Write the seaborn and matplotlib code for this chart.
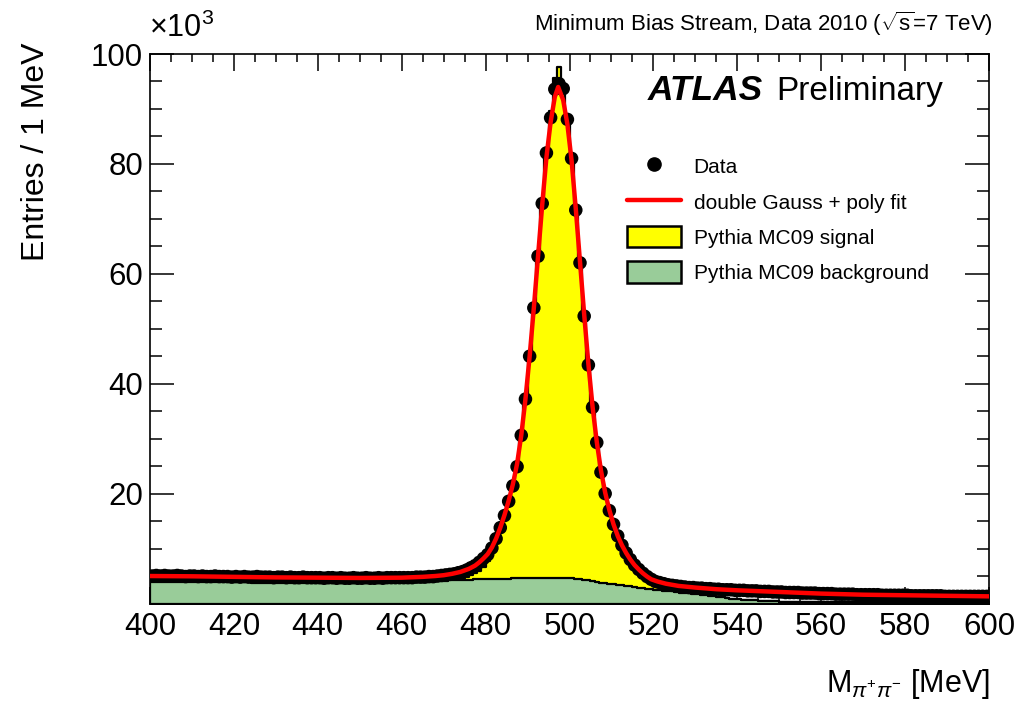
import numpy as np
import pandas as pd
import matplotlib
matplotlib.use('Agg')
import matplotlib.pyplot as plt
import seaborn as sns
from matplotlib.lines import Line2D
from matplotlib.patches import Patch

# bin centres of the 1 MeV histogram, 400.5 ... 599.5
mass = np.arange(400.5, 600.0, 1.0)

# data, entries per bin in units of 10^3
data_k = [
    5.0, 5.1, 5.0, 5.1, 5.0, 5.0, 5.1, 5.0, 4.9, 5.0, 5.0, 4.9, 5.0, 4.9, 4.9, 5.0, 4.9, 4.9, 4.9, 4.8,
    4.9, 4.8, 4.9, 4.8, 4.8, 4.9, 4.8, 4.8, 4.8, 4.7, 4.8, 4.8, 4.7, 4.8, 4.7, 4.7, 4.8, 4.7, 4.7, 4.7,
    4.7, 4.6, 4.7, 4.7, 4.6, 4.7, 4.6, 4.6, 4.7, 4.6, 4.6, 4.7, 4.6, 4.6, 4.7, 4.6, 4.7, 4.7, 4.7, 4.7,
    4.7, 4.7, 4.7, 4.8, 4.8, 4.8, 4.9, 4.9, 5.0, 5.1, 5.2, 5.3, 5.4, 5.6, 5.8, 6.1, 6.5, 6.9, 7.5, 8.2,
    8.9, 10.1, 11.8, 13.8, 16.0, 18.6, 21.4, 24.9, 30.6, 37.2, 45.0, 53.8, 63.2, 72.8, 82.0, 88.4, 93.6, 94.6, 93.7, 88.1,
    81.0, 71.6, 62.0, 52.3, 43.4, 35.7, 29.3, 23.9, 20.0, 16.9, 14.4, 12.3, 10.6, 9.2, 8.0, 7.0, 6.2, 5.5, 4.9, 4.4,
    4.0, 3.8, 3.6, 3.4, 3.3, 3.2, 3.1, 3.0, 2.9, 2.9, 2.8, 2.8, 2.7, 2.7, 2.6, 2.6, 2.5, 2.5, 2.5, 2.4,
    2.4, 2.4, 2.3, 2.3, 2.3, 2.2, 2.2, 2.2, 2.1, 2.1, 2.1, 2.0, 2.0, 2.0, 2.0, 1.9, 1.9, 1.9, 1.9, 1.8,
    1.8, 1.8, 1.8, 1.7, 1.7, 1.7, 1.7, 1.7, 1.6, 1.6, 1.6, 1.6, 1.6, 1.6, 1.5, 1.5, 1.5, 1.5, 1.5, 1.5,
    1.5, 1.4, 1.4, 1.4, 1.4, 1.4, 1.4, 1.4, 1.4, 1.3, 1.3, 1.3, 1.3, 1.3, 1.3, 1.3, 1.3, 1.3, 1.3, 1.3,
]

# Pythia MC09 background, per bin (10^3)
bkg_k = [
    4.0, 4.0, 4.0, 4.0, 4.0, 4.0, 4.0, 4.0, 4.0, 3.9, 3.9, 3.9, 3.9, 3.9, 3.9, 3.9, 3.9, 3.9, 3.9, 3.9,
    3.9, 3.9, 3.9, 3.9, 3.8, 3.8, 3.8, 3.8, 3.8, 3.8, 3.8, 3.8, 3.8, 3.8, 3.8, 3.8, 3.8, 3.8, 3.8, 3.8,
    3.8, 3.8, 3.8, 3.8, 3.8, 3.8, 3.8, 3.8, 3.8, 3.8, 3.8, 3.8, 3.8, 3.8, 3.8, 3.9, 3.9, 3.9, 3.9, 3.9,
    3.9, 3.9, 3.9, 3.9, 4.0, 4.0, 4.0, 4.0, 4.1, 4.1, 4.1, 4.2, 4.2, 4.2, 4.3, 4.3, 4.3, 4.4, 4.4, 4.4,
    4.4, 4.5, 4.5, 4.5, 4.5, 4.5, 4.6, 4.6, 4.6, 4.6, 4.6, 4.6, 4.7, 4.7, 4.7, 4.7, 4.7, 4.7, 4.7, 4.6,
    4.6, 4.5, 4.4, 4.3, 4.2, 4.1, 3.9, 3.8, 3.7, 3.6, 3.5, 3.4, 3.3, 3.2, 3.1, 3.0, 2.9, 2.8, 2.7, 2.6,
    2.5, 2.4, 2.3, 2.2, 2.2, 2.1, 2.0, 1.9, 1.9, 1.8, 1.7, 1.6, 1.5, 1.4, 1.3, 1.2, 1.1, 1.0, 0.9, 0.9,
    0.8, 0.7, 0.7, 0.6, 0.6, 0.5, 0.5, 0.4, 0.4, 0.4, 0.3, 0.3, 0.3, 0.3, 0.3, 0.3, 0.3, 0.3, 0.3, 0.3,
    0.3, 0.3, 0.3, 0.3, 0.3, 0.3, 0.3, 0.3, 0.3, 0.3, 0.3, 0.3, 0.3, 0.3, 0.3, 0.3, 0.3, 0.3, 0.3, 0.3,
    0.2, 0.2, 0.2, 0.2, 0.2, 0.2, 0.2, 0.2, 0.2, 0.2, 0.2, 0.2, 0.2, 0.2, 0.2, 0.2, 0.2, 0.2, 0.2, 0.2,
]

# Pythia MC09 K0s signal, bins 470.5 ... 529.5 (10^3)
sig_start = 470
sig_k = [
    0.1, 0.1, 0.2, 0.3, 0.4, 0.6, 0.8, 1.1, 1.6, 2.3,
    3.3, 4.6, 6.5, 9.0, 11.3, 13.9, 16.7, 20.4, 26.0, 32.5,
    40.5, 49.2, 58.8, 68.8, 77.9, 85.0, 91.0, 92.9, 89.8, 83.4,
    76.2, 67.0, 57.5, 48.0, 39.0, 31.5, 25.3, 20.2, 16.4, 13.4,
    11.0, 9.0, 7.4, 6.1, 4.9, 3.9, 3.0, 2.3, 1.7, 1.2,
    0.9, 0.7, 0.5, 0.4, 0.3, 0.2, 0.1, 0.1, 0.1, 0.0,
]

# double Gauss + poly fit
fit_mass = [400, 410, 420, 430, 440, 450, 460, 465, 468, 470, 472, 474, 476, 477.5, 478.5, 479.5,
            480.5, 481.5, 482.5, 483.5, 484.5, 485.5, 486.5, 487.5, 488.5, 489.5, 490.5, 491.5,
            492.5, 493.5, 494.5, 495.5, 496.5, 497.3, 498.5, 499.5, 500.5, 501.5, 502.5, 503.5,
            504.5, 505.5, 506.5, 507.5, 508.5, 509.5, 510.5, 511.5, 512.5, 513.5, 514.5, 515.5,
            516.5, 517.5, 518.5, 519.5, 521, 523, 526, 530, 535, 540, 550, 560, 570, 580, 590, 600]
fit_k = [5.0, 4.95, 4.85, 4.75, 4.7, 4.65, 4.7, 4.85, 5.0, 5.15, 5.4, 5.75, 6.3, 6.9, 7.5, 8.2,
         9.0, 10.2, 11.8, 13.8, 16.1, 18.7, 21.7, 25.4, 30.6, 37.2, 45.0, 53.8,
         63.2, 72.6, 81.2, 87.6, 92.2, 94.0, 91.6, 87.2, 80.6, 71.8, 62.2, 52.6,
         43.6, 35.8, 29.4, 24.2, 20.2, 17.0, 14.4, 12.3, 10.6, 9.2, 8.0, 7.0,
         6.2, 5.5, 4.9, 4.4, 4.0, 3.6, 3.2, 2.9, 2.6, 2.4, 2.1, 1.8, 1.6, 1.5, 1.4, 1.3]

x_ticks = [400, 420, 440, 460, 480, 500, 520, 540, 560, 580, 600]
y_ticks = [20, 40, 60, 80, 100]

sns.set_style('ticks')
plt.rcParams['font.family'] = ['Liberation Sans', 'DejaVu Sans']
plt.rcParams['mathtext.fontset'] = 'custom'
plt.rcParams['mathtext.rm'] = 'Liberation Sans'
plt.rcParams['mathtext.it'] = 'Liberation Sans:italic'
plt.rcParams['mathtext.bf'] = 'Liberation Sans:bold'
plt.rcParams['text.color'] = 'black'

fig = plt.figure(figsize=(10.18, 7.03), dpi=100)
ax = fig.add_axes([150 / 1018, 99.5 / 703, 839 / 1018, 549.5 / 703])

edges = list(range(400, 601))
total_k = np.array(bkg_k, dtype=float)
i0 = sig_start - 400
total_k[i0:i0 + len(sig_k)] += np.array(sig_k)
hist = pd.DataFrame({'mass': mass, 'total': total_k, 'bkg': bkg_k})

# stacked MC: signal+background in yellow, background in green over it
sns.histplot(data=hist, x='mass', weights='total', bins=edges, element='step', fill=True,
             color='#ffff00', alpha=1, edgecolor='black', linewidth=1.6, ax=ax, zorder=1)
sns.histplot(data=hist, x='mass', weights='bkg', bins=edges, element='step', fill=True,
             color='#99cc99', alpha=1, edgecolor='black', linewidth=1.6, ax=ax, zorder=2)

sns.scatterplot(x=mass, y=data_k, color='black', s=95, edgecolor='none', ax=ax, zorder=3)
sns.lineplot(x=fit_mass, y=fit_k, color='#ff0000', linewidth=3.2, ax=ax, zorder=4)

ax.set_xlim(400, 600)
ax.set_ylim(0, 100)
ax.set_xticks(x_ticks)
ax.set_yticks(y_ticks)
ax.set_xticks(np.arange(400, 601, 5), minor=True)
ax.set_yticks(np.arange(0, 101, 5), minor=True)
ax.tick_params(axis='both', which='both', direction='in', top=True, right=True,
               labelsize=22.5, colors='black', width=1.1)
ax.tick_params(axis='x', which='major', length=12.5, pad=6)
ax.tick_params(axis='x', which='minor', length=6)
ax.tick_params(axis='y', which='major', length=17, pad=5)
ax.tick_params(axis='y', which='minor', length=8.5)
for sp in ax.spines.values():
    sp.set_linewidth(1.2)
    sp.set_color('black')
ax.set_xlabel('')
ax.set_ylabel('')

fig.text(36 / 1018, 1 - 152 / 703, 'Entries / 1 MeV', rotation=90, fontsize=23,
         ha='center', va='center')
fig.text(990 / 1018, 1 - 692 / 703, r'M$_{\pi^{+}\pi^{-}}$ [MeV]', fontsize=22,
         ha='right', va='baseline')
fig.text(149 / 1018, 1 - 37 / 703, r'$\times$10$^{3}$', fontsize=22, ha='left', va='baseline')
fig.text(993 / 1018, 1 - 31 / 703, r'Minimum Bias Stream, Data 2010 ($\sqrt{\mathrm{s}}$=7 TeV)',
         fontsize=16, ha='right', va='baseline')
fig.text(648 / 1018, 1 - 100 / 703, 'ATLAS', fontsize=25.5, fontweight='bold',
         fontstyle='italic', ha='left', va='baseline')
fig.text(776 / 1018, 1 - 100 / 703, 'Preliminary', fontsize=24, ha='left', va='baseline')

handles = [
    Line2D([], [], marker='o', color='black', linestyle='none', markersize=9.5),
    Line2D([], [], color='#ff0000', linewidth=3.2),
    Patch(facecolor='#ffff00', edgecolor='black', linewidth=1.8),
    Patch(facecolor='#99cc99', edgecolor='black', linewidth=1.8),
]
labels = ['Data', 'double Gauss + poly fit', 'Pythia MC09 signal', 'Pythia MC09 background']
ax.legend(handles, labels, loc='upper left', bbox_to_anchor=(0.5685, 0.8152),
          frameon=False, fontsize=15, handlelength=2.6, handleheight=1.2,
          labelspacing=0.65, handletextpad=0.6, borderpad=0, borderaxespad=0)

fig.savefig('out.png', dpi=100)
